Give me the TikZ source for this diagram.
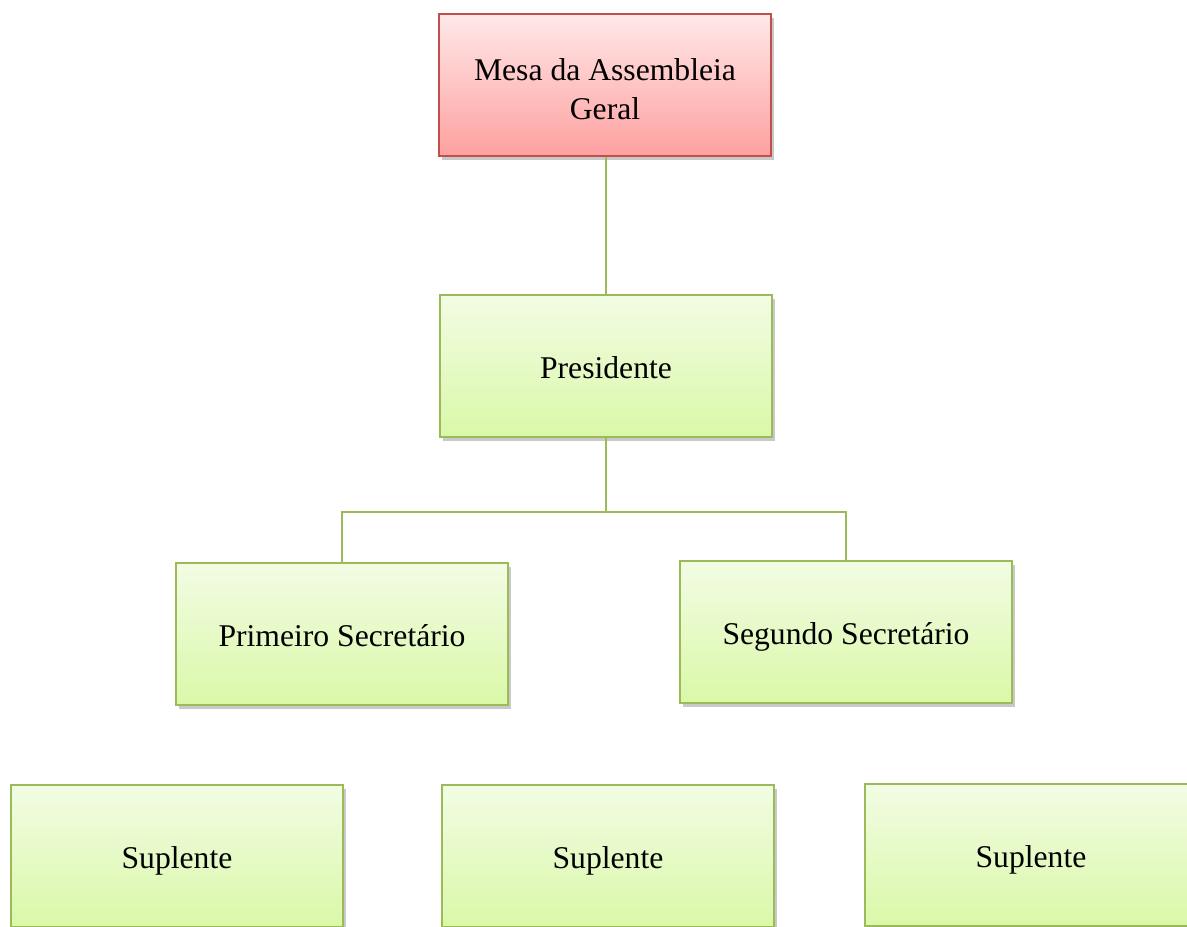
\documentclass[tikz,border=0pt]{standalone}
\usepackage{fontspec}
\setmainfont{Liberation Serif}
\usepackage{xcolor}
\usepackage{tikz}
\usetikzlibrary{positioning,shadows}

\definecolor{boxgreen}{HTML}{9BBB59}
\definecolor{boxred}{HTML}{C0504D}
\definecolor{greentop}{RGB}{242,252,228}
\definecolor{greenbot}{RGB}{218,248,168}
\definecolor{redtop}{RGB}{255,232,232}
\definecolor{redbot}{RGB}{254,160,160}

\tikzset{
  orgbox/.style={draw=boxgreen, line width=0.6pt, top color=greentop, bottom color=greenbot,
    minimum width=3.32cm, minimum height=1.42cm, align=center, inner sep=2pt,
    font=\fontsize{9}{11}\selectfont, text height=0.95em, text depth=0.25em,
    drop shadow={shadow xshift=0.03cm, shadow yshift=-0.04cm, opacity=0.3, fill=black!70}},
  headbox/.style={orgbox, draw=boxred, top color=redtop, bottom color=redbot,
    text height=, text depth=},
  link/.style={draw=boxgreen, line width=0.45pt}
}

\begin{document}
\begin{tikzpicture}[x=0.01cm, y=-0.01cm]
    \useasboundingbox (0,0) rectangle (1187,927);
    \clip (0,0) rectangle (1187,927);

    % Top
    \node[headbox] (mesa) at (605,85) {\rule{0pt}{8.5pt}Mesa da Assembleia\\Geral};

    % President
    \node[orgbox] (pres) at (606,366) {Presidente};

    % Secretaries
    \node[orgbox] (prim) at (342,634) {Primeiro Secretário};
    \node[orgbox] (seg) at (846,632) {Segundo Secretário};

    % Substitutes
    \node[orgbox] (sup1) at (177,856) {Suplente};
    \node[orgbox] (sup2) at (608,856) {Suplente};
    \node[orgbox] (sup3) at (1031,855) {Suplente};

    % Lines
    \draw[link] (mesa.south -| pres.north) -- (pres.north);
    \coordinate (fork) at (606,512);
    \draw[link] (pres.south) -- (fork);
    \draw[link] (fork) -| (prim.north);
    \draw[link] (fork) -| (seg.north);
\end{tikzpicture}
\end{document}
